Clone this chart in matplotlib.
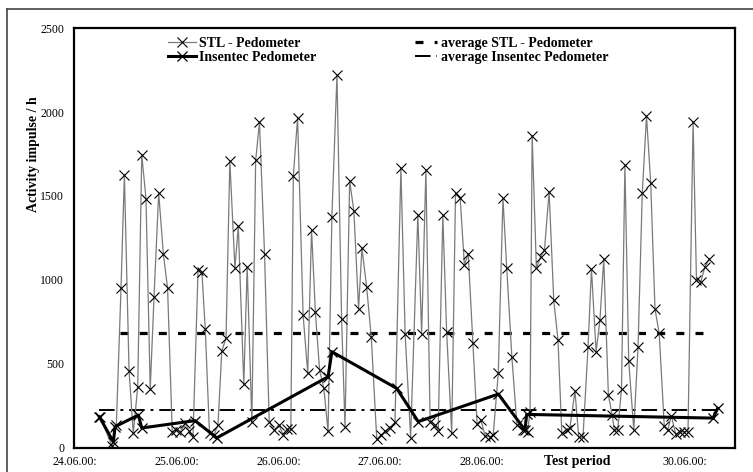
import matplotlib
matplotlib.use("Agg")
import matplotlib.pyplot as plt
from matplotlib.lines import Line2D

# hours since 24.06.00 00:00
stl_hours = [5.9, 8.7, 9.7, 10.8, 11.6, 12.7, 13.7, 14.75, 15.7, 16.7, 17.7, 18.6, 19.7,
             20.8, 21.8, 22.9, 23.8, 24.8, 26.0, 26.9, 27.8, 29.0, 29.9, 30.7, 31.7, 32.8,
             33.7, 34.6, 35.6, 36.5, 37.7, 38.5, 39.8, 40.6, 41.7, 42.6, 43.5, 44.7, 45.8,
             47.0, 48.1, 49.1, 50.0, 50.9, 51.5, 52.5, 53.8, 54.9, 55.8, 56.7, 57.7, 58.7,
             59.7, 60.6, 61.8, 62.9, 63.7, 64.8, 65.8, 66.9, 67.7, 68.8, 69.9, 71.2, 72.2,
             73.2, 74.3, 75.5, 76.9, 77.9, 79.2, 80.9, 81.8, 82.8, 83.8, 85.0, 85.7, 86.8,
             87.7, 88.9, 89.8, 90.9, 91.9, 92.8, 93.9, 94.9, 95.8, 96.8, 97.9, 98.7, 99.9,
             101.0, 101.9, 103.1, 104.3, 105.8, 106.8, 107.4, 107.9, 108.9, 109.9, 110.8,
             111.9, 113.0, 114.0, 114.9, 116.1, 116.8, 118.0, 118.9, 119.9, 121.1, 121.9,
             123.0, 123.9, 124.8, 125.9, 126.8, 127.3, 128.1, 129.0, 129.8, 130.7, 131.9,
             132.9, 133.9, 134.9, 135.9, 136.9, 137.9, 139.1, 139.9, 140.8, 141.8, 142.8,
             143.8, 144.7, 145.9, 146.7, 147.7, 148.7, 149.7]
stl_values = [186, 10, 137, 950, 1625, 460, 87, 365, 1745, 1485, 350, 900, 1518,
              1155, 950, 97, 107, 97, 147, 100, 67, 1060, 1048, 707, 87, 80,
              137, 578, 653, 1710, 1072, 1319, 380, 1079, 152, 1712, 1940, 1155, 157,
              107, 137, 77, 111, 111, 1621, 1966, 792, 447, 1298, 811, 464, 355,
              100, 1375, 2220, 766, 125, 1590, 1409, 828, 1189, 960, 661, 52, 77,
              102, 122, 152, 1665, 680, 62, 1387, 677, 1655, 157, 137, 102, 1387,
              692, 87, 1516, 1486, 1089, 1157, 623, 142, 167, 72, 67, 77, 445,
              1486, 1069, 544, 137, 107, 97, 216, 1857, 1069, 1139, 1176,
              1526, 879, 643, 87, 109, 117, 340, 65, 65, 603, 1066,
              573, 760, 1126, 315, 196, 107, 107, 352, 1684, 519, 107,
              601, 1516, 1976, 1575, 828, 682, 130, 107, 190, 82, 97,
              97, 97, 1942, 1000, 987, 1079, 1126]

ins_hours = [5.7, 9.0, 9.4, 14.9, 15.7, 28.3, 33.4, 59.7, 60.6, 75.9, 81.0, 99.9,
             106.2, 106.6, 150.6, 151.7]
ins_values = [186, 36, 127, 196, 119, 163, 60, 424, 573, 355, 157, 321,
              107, 200, 178, 236]

avg_stl = 686
avg_stl_span = (10.6, 148.7)
avg_ins = 225
avg_ins_span = (5.7, 151.7)

tick_hours = [0, 24, 48, 72, 96, 144]
tick_labels = ["24.06.00:", "25.06.00:", "26.06.00:", "27.06.00:", "28.06.00:", "30.06.00:"]

plt.rcParams["font.family"] = ["Liberation Serif", "DejaVu Serif"]

fig = plt.figure(figsize=(7.53, 4.72), dpi=100)
ax = fig.add_axes([74 / 753, 24 / 472, 661 / 753, 420 / 472])

# outer frame of the scanned figure (left and top edges only)
fig.add_artist(Line2D([7 / 753, 7 / 753], [0, 1 - 9 / 472], transform=fig.transFigure,
                      color="#444444", lw=1.2))
fig.add_artist(Line2D([7 / 753, 1], [1 - 9 / 472, 1 - 9 / 472], transform=fig.transFigure,
                      color="#444444", lw=1.2))

ax.plot(stl_hours, stl_values, color="#7a7a7a", lw=0.9, marker="x", ms=6.5,
        mec="black", mew=0.8, label="STL - Pedometer", zorder=3)
ax.plot(ins_hours, ins_values, color="black", lw=2.2, marker="x", ms=6.5,
        mec="black", mew=0.9, label="Insentec Pedometer", zorder=4)
ax.hlines(avg_stl, *avg_stl_span, colors="black", lw=2.3, linestyles=(0, (2.5, 3.5)),
          label="average STL - Pedometer", zorder=2)
ax.hlines(avg_ins, *avg_ins_span, colors="black", lw=1.4, linestyles=(0, (8, 3, 1.5, 3)),
          label="average Insentec Pedometer", zorder=2)

ax.set_xlim(-0.3, 155.8)
ax.set_ylim(0, 2500)
ax.set_yticks([0, 500, 1000, 1500, 2000, 2500])
ax.set_xticks(tick_hours)
ax.set_xticklabels(tick_labels)
ax.tick_params(length=0, labelsize=8.5)
ax.tick_params(axis="y", pad=7)
ax.tick_params(axis="x", pad=6)
for s in ax.spines.values():
    s.set_linewidth(1.6)
    s.set_color("black")

ax.text(118.6, -0.033, "Test period", transform=ax.get_xaxis_transform(),
        ha="center", va="center", fontsize=10, fontweight="bold")
ax.text(-0.062, 0.70, "Activity impulse / h", transform=ax.transAxes, rotation=90,
        ha="center", va="center", fontsize=10, fontweight="bold")

h, l = ax.get_legend_handles_labels()
leg1 = ax.legend(h[:2], l[:2], loc="upper left", bbox_to_anchor=(0.142, 0.978),
                 frameon=False, borderpad=0, borderaxespad=0, handlelength=2.0,
                 handletextpad=0.25, labelspacing=0.08,
                 prop={"weight": "bold", "size": 10})
ax.add_artist(leg1)
ax.legend(h[2:], l[2:], loc="upper left", bbox_to_anchor=(0.516, 0.978),
          frameon=False, borderpad=0, borderaxespad=0, handlelength=1.6,
          handletextpad=0.3, labelspacing=0.08,
          prop={"weight": "bold", "size": 10})

fig.savefig("out.png", dpi=100)
